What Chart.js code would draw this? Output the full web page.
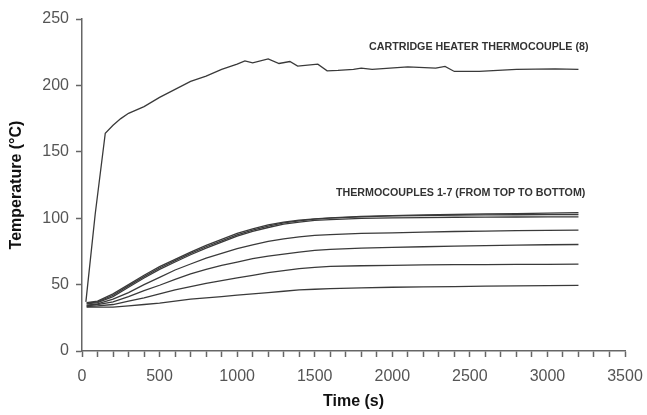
<!DOCTYPE html>
<html>
<head>
<meta charset="utf-8">
<script src="https://cdn.jsdelivr.net/npm/chart.js@4.4.0/dist/chart.umd.min.js"></script>
<style>
html,body{margin:0;padding:0;background:#fff;}
#wrap{width:647px;height:415px;position:relative;}
</style>
</head>
<body>
<div id="wrap"><canvas id="c" width="647" height="415"></canvas></div>
<script>
// ---- data ----
const heaterTimes = [25, 85, 150, 200, 250, 300, 400, 500, 600, 700, 800, 900, 1000, 1050, 1100, 1200, 1270, 1340, 1390, 1520, 1580, 1650, 1750, 1800, 1870, 2100, 2280, 2340, 2400, 2560, 2800, 3050, 3200];
const heaterValues = [37, 103, 164, 170, 175, 179, 184, 191, 197, 203, 207, 212, 216, 218.5, 217, 220, 216.5, 218, 214.5, 216, 211, 211.3, 212, 213, 212, 214, 213, 214.3, 210.5, 210.5, 212, 212.5, 212];

const tcTimes = [30, 100, 200, 300, 400, 500, 600, 700, 800, 900, 1000, 1100, 1200, 1300, 1400, 1500, 1600, 1800, 2000, 2200, 2400, 2600, 2800, 3000, 3200];
const tc1 = [36.5, 37.5, 43, 50, 57, 63.5, 69, 74.5, 79.5, 84, 88.5, 92, 95, 97, 98.5, 99.5, 100.3, 101.3, 102, 102.5, 102.8, 103.2, 103.5, 103.8, 104.2];
const tc2 = [36, 37, 42, 49, 56, 62.5, 68, 73.5, 78.5, 83, 87.5, 91, 94, 96.5, 98, 99.3, 100, 101, 101.7, 102, 102.3, 102.5, 102.6, 102.7, 102.8];
const tc3 = [35.5, 36.5, 41, 48, 55, 61.5, 67, 72.5, 77.5, 82, 86.5, 90, 93, 95.5, 97, 98.3, 99, 99.8, 100.3, 100.5, 100.7, 100.8, 100.9, 101, 101];
const tc4 = [34.5, 35.5, 39, 44, 50, 55.5, 61, 65.5, 70, 73.5, 77, 80, 82.5, 84.5, 86, 87, 87.7, 88.5, 89, 89.5, 90, 90.3, 90.6, 90.8, 91];
const tc5 = [34, 35, 37, 41, 45.5, 49.5, 54, 58, 61.5, 64.5, 67, 69.5, 71.5, 73, 74.5, 75.7, 76.5, 77.5, 78, 78.5, 79, 79.4, 79.8, 80, 80.2];
const tc6 = [33.5, 34, 35, 37.5, 40, 43, 46, 48.5, 51, 53, 55, 57, 59, 60.5, 62, 63, 63.7, 64.2, 64.5, 64.8, 65, 65.1, 65.2, 65.3, 65.4];
const tc7 = [33, 33, 33, 34, 35, 36, 37.5, 39, 40, 41, 42, 43, 44, 45, 46, 46.5, 47, 47.5, 48, 48.3, 48.5, 48.8, 49, 49.2, 49.4];

const xTitle = 'Time (s)';
const yTitle = 'Temperature (°C)';
const noteTexts = ['CARTRIDGE HEATER THERMOCOUPLE (8)', 'THERMOCOUPLES 1-7 (FROM TOP TO BOTTOM)'];
const noteX = [1850, 1637];
const noteY = [228.6, 118.8];

// ---- build ----
const pts = (ts, vs) => ts.map((t, i) => ({x: t, y: vs[i]}));
const lineColor = '#3a3a3a';
const mk = (ts, vs) => ({data: pts(ts, vs), borderColor: lineColor, borderWidth: 1.3, pointRadius: 0, tension: 0, fill: false});
const datasets = [mk(heaterTimes, heaterValues), mk(tcTimes, tc1), mk(tcTimes, tc2), mk(tcTimes, tc3), mk(tcTimes, tc4), mk(tcTimes, tc5), mk(tcTimes, tc6), mk(tcTimes, tc7)];

const notesPlugin = {
  id: 'notes',
  afterDatasetsDraw(chart) {
    const ctx = chart.ctx, xs = chart.scales.x, ys = chart.scales.y;
    ctx.save();
    ctx.font = 'bold 10.7px "Liberation Sans", Arial, sans-serif';
    ctx.fillStyle = '#333';
    ctx.textBaseline = 'middle';
    ctx.textAlign = 'left';
    noteTexts.forEach((t, i) => ctx.fillText(t, xs.getPixelForValue(noteX[i]), ys.getPixelForValue(noteY[i])));
    ctx.restore();
  }
};

const axisColor = '#666';
new Chart(document.getElementById('c'), {
  type: 'line',
  data: {datasets},
  plugins: [notesPlugin],
  options: {
    responsive: false,
    animation: false,
    events: [],
    layout: {padding: {top: 19, right: 22, left: 0, bottom: 0}},
    plugins: {legend: {display: false}, tooltip: {enabled: false}},
    scales: {
      x: {
        type: 'linear', min: 0, max: 3500,
        afterFit(s) { s.height = 64; s.paddingLeft = 0; s.paddingRight = 0; },
        border: {color: axisColor, width: 1.5},
        grid: {drawOnChartArea: false, drawTicks: true, tickLength: 6, color: axisColor, tickWidth: 1.5},
        ticks: {stepSize: 100, autoSkip: false, maxRotation: 0, padding: 10, color: '#555',
          font: {family: '"Liberation Sans", Arial, sans-serif', size: 16},
          callback: v => (v % 500 === 0 ? String(v) : '')},
        title: {display: true, text: xTitle, color: '#111', padding: {top: 0, bottom: 4},
          font: {family: '"Liberation Sans", Arial, sans-serif', size: 16, weight: 'bold'}}
      },
      y: {
        min: 0, max: 250,
        afterFit(s) { s.width = 82; s.paddingTop = 0; s.paddingBottom = 0; },
        border: {color: axisColor, width: 1.5},
        grid: {drawOnChartArea: false, drawTicks: true, tickLength: 6, color: axisColor, tickWidth: 1.5},
        ticks: {stepSize: 50, padding: 7, color: '#555',
          font: {family: '"Liberation Sans", Arial, sans-serif', size: 16}},
        title: {display: true, text: yTitle, color: '#111', padding: {top: 7, bottom: 0},
          font: {family: '"Liberation Sans", Arial, sans-serif', size: 16, weight: 'bold'}}
      }
    }
  }
});
</script>
</body>
</html>
